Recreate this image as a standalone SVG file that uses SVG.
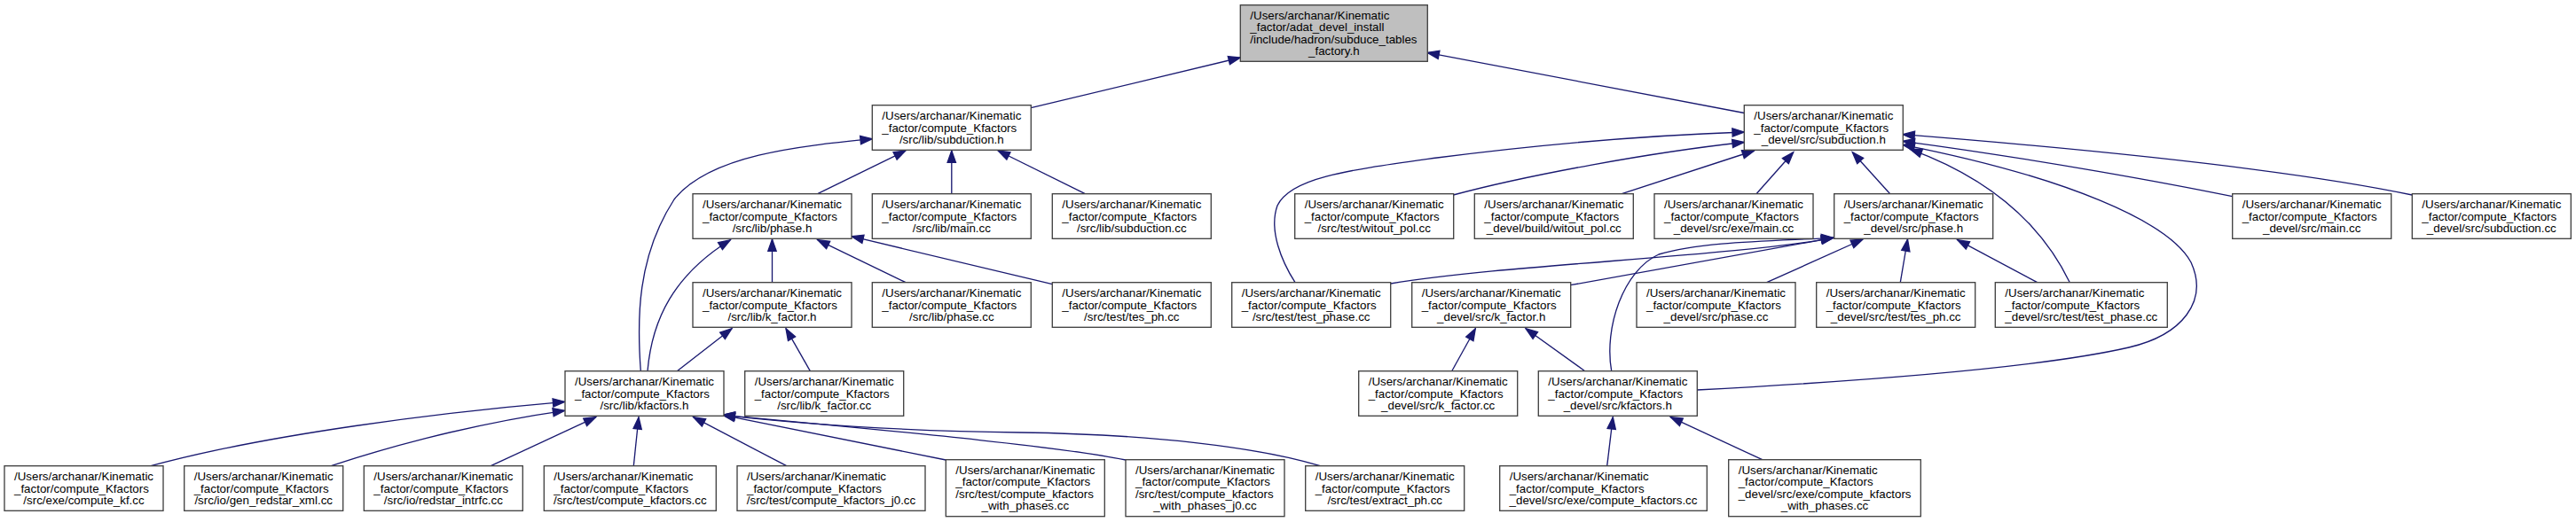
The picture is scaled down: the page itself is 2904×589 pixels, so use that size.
<svg xmlns="http://www.w3.org/2000/svg" width="2904" height="589" viewBox="0 0 2904 589">
<style>
.node rect{fill:#ffffff;stroke:#404040;stroke-width:1.33}
.node.root rect{fill:#bfbfbf}
.node text{font-family:"Liberation Sans",Arial,Helvetica,sans-serif;font-size:13.33px;fill:#000000}
.node text.c{text-anchor:middle}
.edges path{fill:none;stroke:#191970;stroke-width:1.33;marker-end:url(#a)}
</style>
<defs>
<marker id="a" markerUnits="userSpaceOnUse" markerWidth="14" markerHeight="10" viewBox="0 0 14 10" refX="13.3" refY="5" orient="auto" overflow="visible">
<path d="M0,0.33 L13.3,5 L0,9.67 z" fill="#191970" stroke="#191970" stroke-width="1.33"/>
</marker>
</defs>
<rect x="0" y="0" width="2904" height="589" fill="#ffffff"/>

<g id="edges" class="edges">
<path d="M1162.3,121.7 L1398.3,65"/>
<path d="M1966.3,127.5 L1609,59.3"/>
<path d="M921.7,218.7 L1021,170"/>
<path d="M1072.8,218.7 L1072.8,170"/>
<path d="M1223.3,218.7 L1125,170"/>
<path d="M722.3,418.7 C718,360 718,290 760,225 C800,175 900,165 983.3,156.7"/>
<path d="M730,418.7 C735,360 760,310 823.3,270.7"/>
<path d="M763.3,418.7 L825,370.7"/>
<path d="M913.3,418.7 L886,370.7"/>
<path d="M870.5,318.7 L870.5,270"/>
<path d="M1021,318.7 L921.7,270.7"/>
<path d="M1186.3,320.7 L960,266.7"/>
<path d="M1460,318.7 C1445,295 1430,260 1440,232 C1455,200 1520,192 1620,178 C1760,160 1880,152 1966.3,149"/>
<path d="M1638.3,220 C1720,198 1860,172 1966.3,160.5"/>
<path d="M1828.3,218.7 L1977.5,170"/>
<path d="M1980,218.7 L2021.7,171.7"/>
<path d="M2130.7,218.7 L2088.3,171.7"/>
<path d="M2719.3,220 C2600,195 2400,172 2145,151.7"/>
<path d="M2516.7,221.7 C2450,208 2300,180 2145,159.3"/>
<path d="M1913,440 C2100,430 2300,415 2400,392 C2460,378 2490,340 2470,296 C2445,250 2330,200 2145,163.3"/>
<path d="M2333.3,318.7 C2300,250 2240,200 2153.3,168.3"/>
<path d="M1991.7,318.7 L2100,270"/>
<path d="M2142.3,318.7 L2150.5,270"/>
<path d="M2296.7,318.7 L2206.7,270.7"/>
<path d="M1567.7,320 C1700,298 1950,290 2066.7,268.3"/>
<path d="M1770.3,321.7 L2066.7,268.3"/>
<path d="M1816.7,418.7 C1808,370 1830,305 1870,287 C1920,272 2000,272 2066.7,268.3"/>
<path d="M1636.7,418.7 L1663.3,370.7"/>
<path d="M1786.7,418.7 L1720,370.7"/>
<path d="M1811.7,525.7 L1818.3,470.7"/>
<path d="M1986.7,518.7 L1883.3,470.7"/>
<path d="M170,525.7 C300,490 500,465 636.7,453.3"/>
<path d="M373.3,525.7 C420,510 520,480 636.7,463.3"/>
<path d="M553.3,525.7 L671.7,470.7"/>
<path d="M714.3,525.7 L720,470.7"/>
<path d="M886.7,525.7 L781.7,470.7"/>
<path d="M1066.3,519 L815,468.3"/>
<path d="M1269,519 C1200,505 1050,490 815,468.3"/>
<path d="M1488.3,525.7 C1420,505 1300,490 1150,488 C1000,486 900,478 815,468.3"/>
</g>

<g id="n_top" class="node root"><rect x="1398.3" y="5.7" width="211" height="63.6"/>
<text x="1409.3" y="21.9">/Users/archanar/Kinematic</text><text x="1409.3" y="35.3">_factor/adat_devel_install</text><text x="1409.3" y="48.7">/include/hadron/subduce_tables</text><text class="c" x="1503.8" y="62.1">_factory.h</text></g>

<g id="n_lib_subduction_h" class="node"><rect x="983.3" y="118.7" width="179" height="50.6"/>
<text x="994.3" y="135.2">/Users/archanar/Kinematic</text><text x="994.3" y="148.6">_factor/compute_Kfactors</text><text class="c" x="1072.8" y="162">/src/lib/subduction.h</text></g>

<g id="n_devel_subduction_h" class="node"><rect x="1966.3" y="118.7" width="179" height="50.6"/>
<text x="1977.3" y="135.2">/Users/archanar/Kinematic</text><text x="1977.3" y="148.6">_factor/compute_Kfactors</text><text class="c" x="2055.8" y="162">_devel/src/subduction.h</text></g>

<g id="n_lib_phase_h" class="node"><rect x="781" y="218.7" width="179" height="50.6"/>
<text x="792" y="235.2">/Users/archanar/Kinematic</text><text x="792" y="248.6">_factor/compute_Kfactors</text><text class="c" x="870.5" y="262">/src/lib/phase.h</text></g>

<g id="n_lib_main_cc" class="node"><rect x="983.3" y="218.7" width="179" height="50.6"/>
<text x="994.3" y="235.2">/Users/archanar/Kinematic</text><text x="994.3" y="248.6">_factor/compute_Kfactors</text><text class="c" x="1072.8" y="262">/src/lib/main.cc</text></g>

<g id="n_lib_subduction_cc" class="node"><rect x="1186.3" y="218.7" width="179" height="50.6"/>
<text x="1197.3" y="235.2">/Users/archanar/Kinematic</text><text x="1197.3" y="248.6">_factor/compute_Kfactors</text><text class="c" x="1275.8" y="262">/src/lib/subduction.cc</text></g>

<g id="n_test_witout_pol" class="node"><rect x="1459.7" y="218.7" width="179" height="50.6"/>
<text x="1470.7" y="235.2">/Users/archanar/Kinematic</text><text x="1470.7" y="248.6">_factor/compute_Kfactors</text><text class="c" x="1549.2" y="262">/src/test/witout_pol.cc</text></g>

<g id="n_build_witout_pol" class="node"><rect x="1662.3" y="218.7" width="179" height="50.6"/>
<text x="1673.3" y="235.2">/Users/archanar/Kinematic</text><text x="1673.3" y="248.6">_factor/compute_Kfactors</text><text class="c" x="1751.8" y="262">_devel/build/witout_pol.cc</text></g>

<g id="n_devel_exe_main" class="node"><rect x="1865" y="218.7" width="179" height="50.6"/>
<text x="1876" y="235.2">/Users/archanar/Kinematic</text><text x="1876" y="248.6">_factor/compute_Kfactors</text><text class="c" x="1954.5" y="262">_devel/src/exe/main.cc</text></g>

<g id="n_devel_phase_h" class="node"><rect x="2067.7" y="218.7" width="179" height="50.6"/>
<text x="2078.7" y="235.2">/Users/archanar/Kinematic</text><text x="2078.7" y="248.6">_factor/compute_Kfactors</text><text class="c" x="2157.2" y="262">_devel/src/phase.h</text></g>

<g id="n_devel_main" class="node"><rect x="2516.7" y="218.7" width="179" height="50.6"/>
<text x="2527.7" y="235.2">/Users/archanar/Kinematic</text><text x="2527.7" y="248.6">_factor/compute_Kfactors</text><text class="c" x="2606.2" y="262">_devel/src/main.cc</text></g>

<g id="n_devel_subduction_cc" class="node"><rect x="2719.3" y="218.7" width="179" height="50.6"/>
<text x="2730.3" y="235.2">/Users/archanar/Kinematic</text><text x="2730.3" y="248.6">_factor/compute_Kfactors</text><text class="c" x="2808.8" y="262">_devel/src/subduction.cc</text></g>

<g id="n_lib_k_factor_h" class="node"><rect x="781" y="318.7" width="179" height="50.6"/>
<text x="792" y="335.2">/Users/archanar/Kinematic</text><text x="792" y="348.6">_factor/compute_Kfactors</text><text class="c" x="870.5" y="362">/src/lib/k_factor.h</text></g>

<g id="n_lib_phase_cc" class="node"><rect x="983.3" y="318.7" width="179" height="50.6"/>
<text x="994.3" y="335.2">/Users/archanar/Kinematic</text><text x="994.3" y="348.6">_factor/compute_Kfactors</text><text class="c" x="1072.8" y="362">/src/lib/phase.cc</text></g>

<g id="n_test_tes_ph" class="node"><rect x="1186.3" y="318.7" width="179" height="50.6"/>
<text x="1197.3" y="335.2">/Users/archanar/Kinematic</text><text x="1197.3" y="348.6">_factor/compute_Kfactors</text><text class="c" x="1275.8" y="362">/src/test/tes_ph.cc</text></g>

<g id="n_test_test_phase" class="node"><rect x="1388.7" y="318.7" width="179" height="50.6"/>
<text x="1399.7" y="335.2">/Users/archanar/Kinematic</text><text x="1399.7" y="348.6">_factor/compute_Kfactors</text><text class="c" x="1478.2" y="362">/src/test/test_phase.cc</text></g>

<g id="n_devel_k_factor_h" class="node"><rect x="1591.7" y="318.7" width="179" height="50.6"/>
<text x="1602.7" y="335.2">/Users/archanar/Kinematic</text><text x="1602.7" y="348.6">_factor/compute_Kfactors</text><text class="c" x="1681.2" y="362">_devel/src/k_factor.h</text></g>

<g id="n_devel_phase_cc" class="node"><rect x="1845" y="318.7" width="179" height="50.6"/>
<text x="1856" y="335.2">/Users/archanar/Kinematic</text><text x="1856" y="348.6">_factor/compute_Kfactors</text><text class="c" x="1934.5" y="362">_devel/src/phase.cc</text></g>

<g id="n_devel_test_tes_ph" class="node"><rect x="2047.7" y="318.7" width="179" height="50.6"/>
<text x="2058.7" y="335.2">/Users/archanar/Kinematic</text><text x="2058.7" y="348.6">_factor/compute_Kfactors</text><text class="c" x="2137.2" y="362">_devel/src/test/tes_ph.cc</text></g>

<g id="n_devel_test_test_phase" class="node"><rect x="2249.3" y="318.7" width="194" height="50.6"/>
<text x="2260.3" y="335.2">/Users/archanar/Kinematic</text><text x="2260.3" y="348.6">_factor/compute_Kfactors</text><text class="c" x="2346.3" y="362">_devel/src/test/test_phase.cc</text></g>

<g id="n_lib_kfactors_h" class="node"><rect x="637" y="418.7" width="179" height="50.6"/>
<text x="648" y="435.2">/Users/archanar/Kinematic</text><text x="648" y="448.6">_factor/compute_Kfactors</text><text class="c" x="726.5" y="462">/src/lib/kfactors.h</text></g>

<g id="n_lib_k_factor_cc" class="node"><rect x="839.7" y="418.7" width="179" height="50.6"/>
<text x="850.7" y="435.2">/Users/archanar/Kinematic</text><text x="850.7" y="448.6">_factor/compute_Kfactors</text><text class="c" x="929.2" y="462">/src/lib/k_factor.cc</text></g>

<g id="n_devel_k_factor_cc" class="node"><rect x="1531.7" y="418.7" width="179" height="50.6"/>
<text x="1542.7" y="435.2">/Users/archanar/Kinematic</text><text x="1542.7" y="448.6">_factor/compute_Kfactors</text><text class="c" x="1621.2" y="462">_devel/src/k_factor.cc</text></g>

<g id="n_devel_kfactors_h" class="node"><rect x="1734.3" y="418.7" width="179" height="50.6"/>
<text x="1745.3" y="435.2">/Users/archanar/Kinematic</text><text x="1745.3" y="448.6">_factor/compute_Kfactors</text><text class="c" x="1823.8" y="462">_devel/src/kfactors.h</text></g>

<g id="n_exe_compute_kf" class="node"><rect x="5" y="525.7" width="179" height="50.6"/>
<text x="16" y="542.2">/Users/archanar/Kinematic</text><text x="16" y="555.6">_factor/compute_Kfactors</text><text class="c" x="94.5" y="569">/src/exe/compute_kf.cc</text></g>

<g id="n_io_gen_redstar_xml" class="node"><rect x="207.7" y="525.7" width="179" height="50.6"/>
<text x="218.7" y="542.2">/Users/archanar/Kinematic</text><text x="218.7" y="555.6">_factor/compute_Kfactors</text><text class="c" x="297.2" y="569">/src/io/gen_redstar_xml.cc</text></g>

<g id="n_io_redstar_intrfc" class="node"><rect x="410.3" y="525.7" width="179" height="50.6"/>
<text x="421.3" y="542.2">/Users/archanar/Kinematic</text><text x="421.3" y="555.6">_factor/compute_Kfactors</text><text class="c" x="499.8" y="569">/src/io/redstar_intrfc.cc</text></g>

<g id="n_test_compute_kfactors" class="node"><rect x="613.3" y="525.7" width="194" height="50.6"/>
<text x="624.3" y="542.2">/Users/archanar/Kinematic</text><text x="624.3" y="555.6">_factor/compute_Kfactors</text><text class="c" x="710.3" y="569">/src/test/compute_kfactors.cc</text></g>

<g id="n_test_compute_kfactors_j0" class="node"><rect x="831" y="525.7" width="212" height="50.6"/>
<text x="842" y="542.2">/Users/archanar/Kinematic</text><text x="842" y="555.6">_factor/compute_Kfactors</text><text class="c" x="937" y="569">/src/test/compute_kfactors_j0.cc</text></g>

<g id="n_test_with_phases" class="node"><rect x="1066.3" y="518.7" width="179" height="64"/>
<text x="1077.3" y="534.9">/Users/archanar/Kinematic</text><text x="1077.3" y="548.3">_factor/compute_Kfactors</text><text x="1077.3" y="561.7">/src/test/compute_kfactors</text><text class="c" x="1155.8" y="575.1">_with_phases.cc</text></g>

<g id="n_test_with_phases_j0" class="node"><rect x="1269" y="518.7" width="179" height="64"/>
<text x="1280" y="534.9">/Users/archanar/Kinematic</text><text x="1280" y="548.3">_factor/compute_Kfactors</text><text x="1280" y="561.7">/src/test/compute_kfactors</text><text class="c" x="1358.5" y="575.1">_with_phases_j0.cc</text></g>

<g id="n_test_extract_ph" class="node"><rect x="1471.7" y="525.7" width="179" height="50.6"/>
<text x="1482.7" y="542.2">/Users/archanar/Kinematic</text><text x="1482.7" y="555.6">_factor/compute_Kfactors</text><text class="c" x="1561.2" y="569">/src/test/extract_ph.cc</text></g>

<g id="n_devel_exe_compute_kfactors" class="node"><rect x="1690.7" y="525.7" width="233.6" height="50.6"/>
<text x="1701.7" y="542.2">/Users/archanar/Kinematic</text><text x="1701.7" y="555.6">_factor/compute_Kfactors</text><text class="c" x="1807.5" y="569">_devel/src/exe/compute_kfactors.cc</text></g>

<g id="n_devel_exe_with_phases" class="node"><rect x="1948.7" y="518.7" width="216.6" height="64"/>
<text x="1959.7" y="534.9">/Users/archanar/Kinematic</text><text x="1959.7" y="548.3">_factor/compute_Kfactors</text><text x="1959.7" y="561.7">_devel/src/exe/compute_kfactors</text><text class="c" x="2057" y="575.1">_with_phases.cc</text></g>
</svg>
